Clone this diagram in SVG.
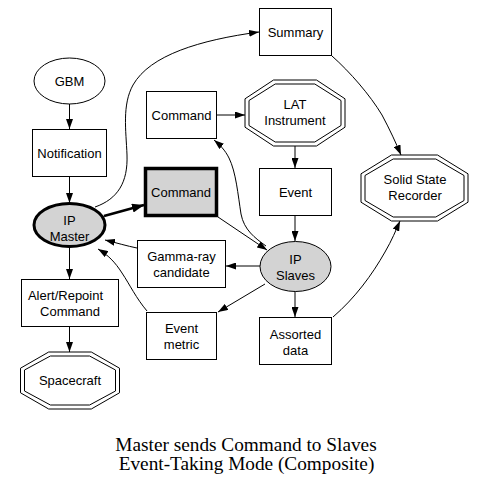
<svg xmlns="http://www.w3.org/2000/svg" width="487" height="488" viewBox="0 0 487 488">
<style>
.n{fill:#fff;stroke:#000;stroke-width:1}
.g{fill:#d3d3d3;stroke:#000}
.t{font-family:"Liberation Sans",Arial,sans-serif;font-size:13px;fill:#000;text-anchor:middle}
.e{fill:none;stroke:#000;stroke-width:1}
.title{font-family:"Liberation Serif","Times New Roman",serif;font-size:19.3px;fill:#000;text-anchor:middle}
</style>
<defs>
<marker id="a" markerUnits="userSpaceOnUse" markerWidth="10" markerHeight="7" refX="10" refY="3.5" orient="auto"><path d="M0,0 L10,3.5 L0,7 Z" fill="#000"/></marker>
<marker id="ab" markerUnits="userSpaceOnUse" markerWidth="12" markerHeight="9" refX="12" refY="4.5" orient="auto"><path d="M0,0 L12,4.5 L0,9 Z" fill="#000"/></marker>
</defs>
<rect width="487" height="488" fill="#fff"/>
<g id="connectors">
<path class="e" d="M69.5,104 L69.5,129" marker-end="url(#a)"/>
<path class="e" d="M69.5,177 L69.5,203" marker-end="url(#a)"/>
<path class="e" d="M104,216 L144,205" style="stroke-width:2.5" marker-end="url(#ab)"/>
<path class="e" d="M95,207 C118,199 128,182 127,155 C126,130 122,105 133,85 C150,55 200,40 259,32" marker-end="url(#a)"/>
<path class="e" d="M217,115 L245,115" marker-end="url(#a)"/>
<path class="e" d="M295,146 L295,168" marker-end="url(#a)"/>
<path class="e" d="M295,216 L295,241" marker-end="url(#a)"/>
<path class="e" d="M266,246 C255,238 244,230 241,214 C238,195 236,172 229,158 C225,150 220,145 214,140" marker-end="url(#a)"/>
<path class="e" d="M218,217 L267,250" marker-end="url(#a)"/>
<path class="e" d="M260,266 L226,266" marker-end="url(#a)"/>
<path class="e" d="M265,284 L218,312" marker-end="url(#a)"/>
<path class="e" d="M295,291 L295,317" marker-end="url(#a)"/>
<path class="e" d="M137,248 C127,246 117,243 105,240" marker-end="url(#a)"/>
<path class="e" d="M147,311 C136,298 130,285 122,273 C115,262 108,255 98,249" marker-end="url(#a)"/>
<path class="e" d="M69.5,246 L69.5,279" marker-end="url(#a)"/>
<path class="e" d="M69.5,327 L69.5,352" marker-end="url(#a)"/>
<path class="e" d="M332,56 C350,72 370,95 382,115 C390,130 396,143 401,155" marker-end="url(#a)"/>
<path class="e" d="M333,317 C355,298 372,275 385,252 C392,240 396,230 400,221" marker-end="url(#a)"/>
</g>
<g id="gbm"><ellipse class="n" cx="69.5" cy="81" rx="35.5" ry="23"/><text class="t" x="69.5" y="86">GBM</text></g>
<g id="notification"><rect class="n" x="32.5" y="129.5" width="74" height="47"/><text class="t" x="69.5" y="158">Notification</text></g>
<g id="ipmaster"><ellipse class="g" cx="69.5" cy="225" rx="35.5" ry="21.5" style="stroke-width:3"/><text class="t" x="69.5" y="225">IP</text><text class="t" x="69.5" y="241">Master</text></g>
<g id="command1"><rect class="n" x="146.5" y="91.5" width="70" height="47"/><text class="t" x="181.5" y="120">Command</text></g>
<g id="command2"><rect class="g" x="145.5" y="168.5" width="71" height="47" style="stroke-width:3.5"/><text class="t" x="181" y="197">Command</text></g>
<g id="summary"><rect class="n" x="259.5" y="8.5" width="72" height="47"/><text class="t" x="295.5" y="37">Summary</text></g>
<g id="lat"><polygon class="n" points="273.5,80 316.5,80 345,98.8 345,127.2 316.5,146 273.5,146 245,127.2 245,98.8"/><polygon class="n" points="275.2,84 314.8,84 341,100.5 341,125.5 314.8,142 275.2,142 249,125.5 249,100.5"/><text class="t" x="295" y="109">LAT</text><text class="t" x="295" y="125">Instrument</text></g>
<g id="event"><rect class="n" x="259.5" y="168.5" width="72" height="47"/><text class="t" x="295.5" y="197">Event</text></g>
<g id="ssr"><polygon class="n" points="391.5,155 437.5,155 468,173.8 468,202.2 437.5,221 391.5,221 361,202.2 361,173.8"/><polygon class="n" points="393.2,159 435.8,159 464,175.5 464,200.5 435.8,217 393.2,217 365,200.5 365,175.5"/><text class="t" x="415" y="184">Solid State</text><text class="t" x="415" y="200">Recorder</text></g>
<g id="ipslaves"><ellipse class="g" cx="295.5" cy="266.5" rx="35.5" ry="25" style="stroke-width:1"/><text class="t" x="295.5" y="263.5">IP</text><text class="t" x="295.5" y="279.5">Slaves</text></g>
<g id="gamma"><rect class="n" x="137.5" y="240.5" width="88" height="47"/><text class="t" x="181.5" y="261">Gamma-ray</text><text class="t" x="181.5" y="277">candidate</text></g>
<g id="eventmetric"><rect class="n" x="146.5" y="312.5" width="70" height="47"/><text class="t" x="181.5" y="333">Event</text><text class="t" x="181.5" y="348.5">metric</text></g>
<g id="alert"><rect class="n" x="21.5" y="279.5" width="97" height="47"/><text class="t" x="65.5" y="300">Alert/Repoint</text><text class="t" x="70" y="315.5">Command</text></g>
<g id="spacecraft"><polygon class="n" points="48.7,352 91.3,352 119.5,368.2 119.5,392.8 91.3,409 48.7,409 20.5,392.8 20.5,368.2"/><polygon class="n" points="50.4,356 89.6,356 115.5,370 115.5,391 89.6,405 50.4,405 24.5,391 24.5,370"/><text class="t" x="70" y="385">Spacecraft</text></g>
<g id="assorted"><rect class="n" x="259.5" y="317.5" width="72" height="47"/><text class="t" x="295.5" y="339">Assorted</text><text class="t" x="295.5" y="354.5">data</text></g>
<text class="title" x="246" y="451">Master sends Command to Slaves</text>
<text class="title" x="246.5" y="470">Event-Taking Mode (Composite)</text>
</svg>
